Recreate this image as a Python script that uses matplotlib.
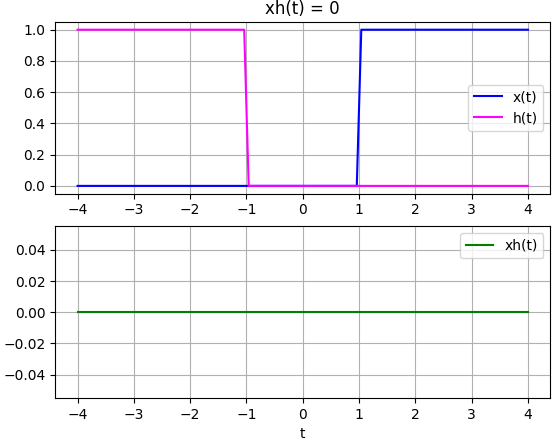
import matplotlib
matplotlib.use("Agg")
import matplotlib.pyplot as plt
from matplotlib.ticker import MultipleLocator

t = [-4.0, -1.04, -0.96, 0.96, 1.04, 4.0]
x_vals = [0, 0, 0, 0, 1, 1]
h_vals = [1, 1, 0, 0, 0, 0]
t_xh = [-4.0, 4.0]
xh_vals = [0, 0]

fig, (ax1, ax2) = plt.subplots(2, 1, figsize=(5.56, 4.38), dpi=100)
ax1.plot(t, x_vals, color='blue', label='x(t)')
ax1.plot(t, h_vals, color='magenta', label='h(t)')
ax1.set_title('xh(t) = 0')
ax1.grid(True)
ax1.yaxis.set_major_locator(MultipleLocator(0.2))
ax1.legend(loc='center right')
ax2.plot(t_xh, xh_vals, color='green', label='xh(t)')
ax2.set_xlabel('t')
ax2.grid(True)
ax2.set_ylim(-0.055, 0.055)
ax2.yaxis.set_major_locator(MultipleLocator(0.02))
ax2.legend(loc='upper right')
fig.subplots_adjust(left=0.099, right=0.99, top=0.95, bottom=0.091, hspace=0.19)
fig.savefig('out.png')
